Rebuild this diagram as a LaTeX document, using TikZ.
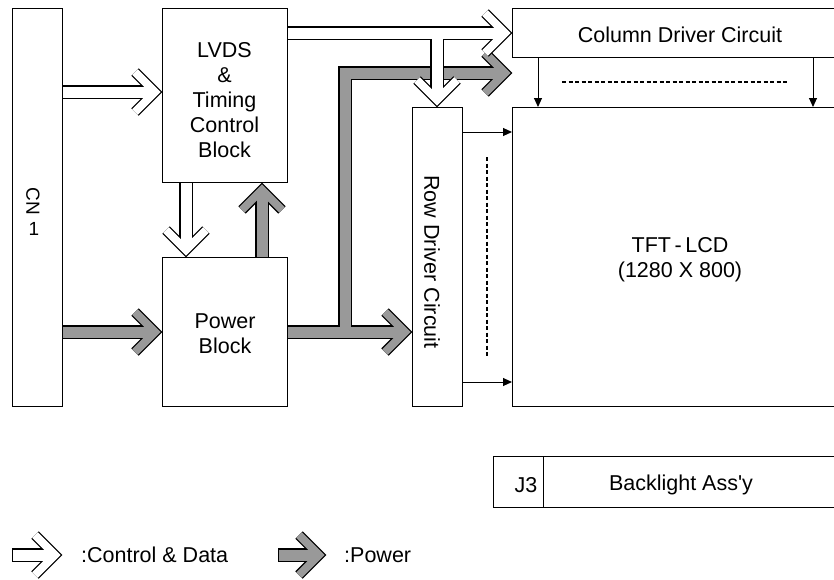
\documentclass[tikz,border=0pt]{standalone}
\usepackage{fontspec}
\setmainfont{Liberation Sans}
\newfontfamily\rawsans[Ligatures=TeXOff]{Liberation Sans}
\usetikzlibrary{arrows.meta,calc}
\definecolor{pcol}{RGB}{153,153,153}
\tikzset{
  box/.style={draw=black, line width=0.9pt, fill=white, inner sep=0pt, anchor=north west},
  rim/.style={draw=black, line width=0.9pt},
  lbl/.style={inner sep=0pt, align=center, font=\fontsize{21.5}{25}\selectfont},
  thinarrow/.style={draw=black, line width=1pt, -{Triangle[length=9pt,width=8pt]}},
  dashline/.style={draw=black, line width=1.4pt, dash pattern=on 4pt off 2.5pt},
  chev/.pic={\path[pic actions] (-27,-20) -- (-7,0) -- (-27,20);}
}
\newcommand\fatarrow[3]{%
  \begin{scope}[black, line join=miter, line cap=butt]
    \draw[line width=13.6pt] #2;
    \begin{scope}[line width=10.4pt] #3 \end{scope}
  \end{scope}
  \begin{scope}[#1, line join=miter, line cap=butt]
    \draw[line width=11pt] #2;
    \begin{scope}[line width=7.8pt] #3 \end{scope}
  \end{scope}
}
\begin{document}
\begin{tikzpicture}[x=1pt,y=-1pt]
\useasboundingbox (0,0) rectangle (834,579);
\clip (0,0) rectangle (834,579);
% boxes
\node[box, minimum width=50, minimum height=398] (cn1) at (12,8) {};
\node[box, minimum width=125, minimum height=174] (lvds) at (162,8) {};
\node[box, minimum width=125, minimum height=149] (pwr) at (162,257) {};
\node[box, minimum width=336, minimum height=49] (col) at (512,8) {};
\node[box, minimum width=50, minimum height=299] (row) at (412,107) {};
\node[box, minimum width=336, minimum height=299] (tft) at (512,107) {};
\node[box, minimum width=50, minimum height=51] (j3) at (493,456) {};
\node[box, minimum width=305, minimum height=51] (bl) at (543,456) {};
% texts
\node[lbl] (lvdstxt) at (224.5,100) {LVDS\\\&\\Timing\\Control\\Block};
\node[lbl] (pwrtxt) at (225,334) {Power\\Block};
\node[lbl] (coltxt) at (680,35) {Column Driver Circuit};
\node[lbl] (tfttxt) at (680,260) {TFT\,-\,LCD\\(1280 X 800)};
\node[lbl] (j3txt) at (526,485) {J3};
\node[lbl, font=\rawsans\fontsize{21.5}{25}\selectfont] (bltxt) at (681,485) {Backlight Ass'y};
\node[lbl, rotate=-90] (rowtxt) at (432,262) {Row Driver Circuit};
\node[lbl, font=\fontsize{19}{22}\selectfont, rotate=-90] (cntxt) at (33,201) {CN};
\node[lbl, font=\fontsize{19}{22}\selectfont] (onetxt) at (34,229) {1};
% fat arrows
\fatarrow{white}{(cn1.east |- 0,92) -- (152,92)}{\pic[draw] at (lvds.west |- 0,92) {chev};}
\fatarrow{pcol}{(cn1.east |- 0,332) -- (152,332)}{\pic[draw] at (pwr.west |- 0,332) {chev};}
\fatarrow{white}{(lvds.south -| 186,0) -- (186,247)}{\pic[draw, rotate=-90] at (pwr.north -| 186,0) {chev};}
\fatarrow{pcol}{(pwr.north -| 262,0) -- (262,192)}{\pic[draw, rotate=90] at (lvds.south -| 262,0) {chev};}
\fatarrow{pcol}{(pwr.east |- 0,332) -- (402,332) (345,332) -- (345,73) -- (502,73)}{\pic[draw] at (row.west |- 0,332) {chev}; \pic[draw] at (col.west |- 0,73) {chev};}
\fatarrow{white}{(lvds.east |- 0,33) -- (502,33) (437,33) -- (437,97)}{\pic[draw] at (col.west |- 0,33) {chev}; \pic[draw, rotate=-90] at (row.north -| 437,0) {chev};}
% re-stroke borders
\draw[rim] (cn1.north west) rectangle (cn1.south east);
\draw[rim] (lvds.north west) rectangle (lvds.south east);
\draw[rim] (pwr.north west) rectangle (pwr.south east);
\draw[rim] (col.north west) rectangle (col.south east);
\draw[rim] (row.north west) rectangle (row.south east);
% thin arrows
\draw[thinarrow] (col.south -| 538,0) -- (tft.north -| 538,0);
\draw[thinarrow] (col.south -| 813,0) -- (tft.north -| 813,0);
\draw[thinarrow] (row.east |- 0,132) -- (tft.west |- 0,132);
\draw[thinarrow] (row.east |- 0,382) -- (tft.west |- 0,382);
\draw[dashline] (562,82) -- (788,82);
\draw[dashline] (487,157) -- (487,356);
% legend
\coordinate (lc0) at (12,555);
\coordinate (lc1) at (62,555);
\coordinate (lp0) at (278,555);
\coordinate (lp1) at (326,555);
\fatarrow{white}{(lc0) -- (52,555)}{\pic[draw] at (lc1) {chev};}
\draw[rim] (12,548.2) -- (12,561.8);
\fatarrow{pcol}{(lp0) -- (316,555)}{\pic[draw] at (lp1) {chev};}
\draw[rim] (278,548.2) -- (278,561.8);
\node[lbl, anchor=west] (legc) at (81,555) {:Control \& Data};
\node[lbl, anchor=west] (legp) at (344,555) {:Power};
\end{tikzpicture}
\end{document}
